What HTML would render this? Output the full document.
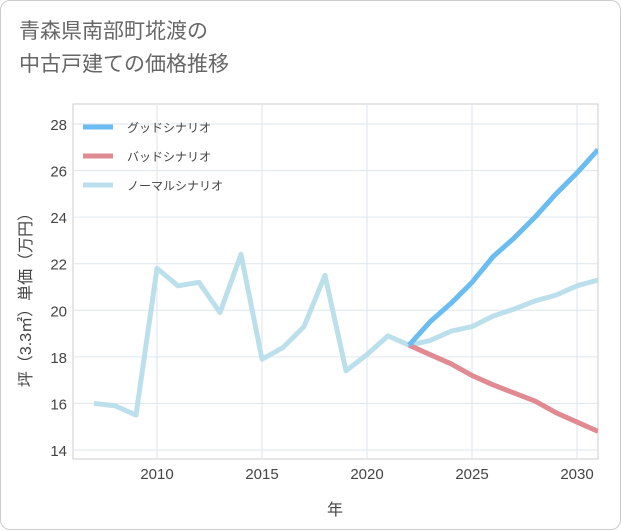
<!DOCTYPE html>
<html><head><meta charset="utf-8">
<style>
body{margin:0;background:#fff;}
#card{position:absolute;left:0;top:0;width:619px;height:528px;border:1px solid #ccc;border-radius:10px;background:#fff;font-family:"Liberation Sans","Noto Sans CJK JP",sans-serif;}
#title{position:absolute;left:18px;top:14px;font-size:21px;line-height:33px;color:#666;}
svg{position:absolute;left:0;top:0;}
</style></head><body>
<div id="card">
<div id="title">青森県南部町埖渡の<br>中古戸建ての価格推移</div>
<svg id="chart" width="621" height="530"><defs><clipPath id="pc"><rect x="72" y="103" width="525" height="355"/></clipPath></defs></svg>
</div>
<script>
const years=[2007,2008,2009,2010,2011,2012,2013,2014,2015,2016,2017,2018,2019,2020,2021,2022,2023,2024,2025,2026,2027,2028,2029,2030,2031];
const normal=[16.0,15.9,15.5,21.8,21.05,21.2,19.9,22.4,17.9,18.4,19.3,21.5,17.4,18.1,18.9,18.5,18.7,19.1,19.3,19.75,20.05,20.4,20.65,21.05,21.3];
const goodYears=[2022,2023,2024,2025,2026,2027,2028,2029,2030,2031];
const good=[18.5,19.5,20.3,21.2,22.3,23.1,24.0,25.0,25.9,26.9];
const bad=[18.5,18.1,17.7,17.2,16.8,16.45,16.1,15.6,15.2,14.8];
const xTicks=[2010,2015,2020,2025,2030];
const yTicks=[14,16,18,20,22,24,26,28];
const L=72,R=597,T=103,B=458;
const x=v=>156+(v-2010)*21;
const y=v=>449-(v-14)*(326/14);
const s=document.getElementById('chart');const NS='http://www.w3.org/2000/svg';
function mk(t,a,p){const e=document.createElementNS(NS,t);for(const k in a)e.setAttribute(k,a[k]);(p||s).appendChild(e);return e;}
const bg=mk('rect',{x:L,y:T,width:R-L,height:B-T,fill:'#fff',stroke:'#ccc'});


xTicks.forEach(v=>{const g=mk('line',{x1:x(v),x2:x(v),y1:T,y2:B,stroke:'#dde6ec'});


const t=mk('text',{x:x(v),y:478,'text-anchor':'middle','font-size':15,fill:'#444'});t.textContent=v;

});
yTicks.forEach(v=>{const g=mk('line',{x1:L,x2:R,y1:y(v),y2:y(v),stroke:'#dde6ec'});


const t=mk('text',{x:66,y:y(v)+6,'text-anchor':'end','font-size':15,fill:'#444'});t.textContent=v;

});
function line(xs,vs,c,name){const p=mk('polyline',{points:xs.map((v,i)=>x(v)+','+y(vs[i])).join(' '),fill:'none',stroke:c,'stroke-width':5,'stroke-linejoin':'round','clip-path':'url(#pc)'});

}
line(years,normal,'#bcdfec','normal-series-line');
line(goodYears,bad,'#e08a91','bad-series-line');
line(goodYears,good,'#6bbcf0','good-series-line');
const leg=[['グッドシナリオ','#6bbcf0'],['バッドシナリオ','#e08a91'],['ノーマルシナリオ','#bcdfec']];
leg.forEach((d,i)=>{const yy=126+i*29;const l=mk('line',{x1:82,x2:112,y1:yy,y2:yy,stroke:d[1],'stroke-width':5});


const t=mk('text',{x:126,y:yy+5,'font-size':12,fill:'#444'});t.textContent=d[0];

});
const xt=mk('text',{x:334,y:514,'text-anchor':'middle','font-size':16,fill:'#444'});xt.textContent='年';


const yt=mk('text',{x:0,y:0,'text-anchor':'middle','font-size':16,fill:'#444',transform:'translate(30,295) rotate(-90)'});yt.textContent='坪（3.3㎡）単価（万円）';


</script>
</body></html>
